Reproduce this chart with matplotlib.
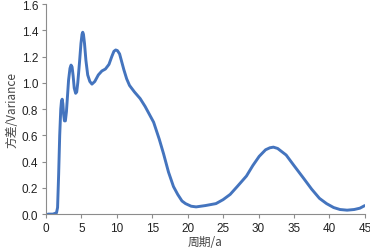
import matplotlib
matplotlib.use('Agg')
import matplotlib.pyplot as plt

plt.rcParams['font.family'] = ['Liberation Sans', 'Noto Sans CJK SC', 'DejaVu Sans']

# period (a) and variance
period = [0.3, 1.0, 1.5, 1.65, 1.8, 1.95, 2.1, 2.2, 2.3, 2.4, 2.5, 2.62, 2.75, 2.9, 3.05, 3.2,
          3.4, 3.55, 3.7, 3.85, 4.0, 4.2, 4.35, 4.5, 4.75, 4.95, 5.1, 5.2, 5.3, 5.45, 5.65,
          5.9, 6.2, 6.5, 6.9, 7.4, 7.9, 8.4, 8.9, 9.3, 9.6, 9.85, 10.1, 10.4, 10.7, 11.0,
          11.4, 11.8, 12.5, 13.3, 14.0, 14.6, 15.2, 16.0, 16.6, 17.3, 18.0,
          18.6, 19.2, 19.7, 20.5, 21.2, 22.5, 24.0, 25.0, 26.0, 27.0, 28.3, 29.2, 30.1,
          31.0, 31.6, 32.1, 32.7, 33.9, 35.0, 36.4, 37.5, 38.6, 39.6, 40.6, 41.5, 42.5, 43.5,
          44.3, 45.0]
variance = [0.0, 0.0, 0.01, 0.05, 0.30, 0.60, 0.80, 0.86, 0.875, 0.84, 0.76, 0.71, 0.71, 0.78, 0.90, 1.02,
            1.11, 1.135, 1.12, 1.05, 0.96, 0.92, 0.93, 1.00, 1.16, 1.30, 1.37, 1.385, 1.37, 1.30, 1.17,
            1.06, 1.01, 0.99, 1.01, 1.06, 1.09, 1.105, 1.14, 1.20, 1.24, 1.25, 1.245, 1.22, 1.16, 1.10,
            1.03, 0.98, 0.93, 0.88, 0.82, 0.76, 0.70, 0.57, 0.46, 0.32, 0.21,
            0.15, 0.10, 0.08, 0.06, 0.055, 0.065, 0.08, 0.11, 0.15, 0.21, 0.29, 0.37, 0.44,
            0.49, 0.505, 0.51, 0.50, 0.45, 0.37, 0.27, 0.19, 0.12, 0.08, 0.05, 0.035, 0.03, 0.035,
            0.045, 0.065]

x_ticks = [0, 5, 10, 15, 20, 25, 30, 35, 40, 45]
y_ticks = [0.0, 0.2, 0.4, 0.6, 0.8, 1.0, 1.2, 1.4, 1.6]

fig = plt.figure(figsize=(3.7, 2.51), dpi=100)
ax = fig.add_axes([0.124, 0.143, 0.862, 0.837])

ax.plot(period, variance, color='#4474BE', linewidth=2.1, solid_capstyle='round',
        solid_joinstyle='round')

ax.set_xlim(0, 45)
ax.set_ylim(0, 1.6)
ax.set_xticks(x_ticks)
ax.set_yticks(y_ticks)
ax.set_yticklabels(['%.1f' % v for v in y_ticks])

for side in ['top', 'right']:
    ax.spines[side].set_visible(False)
for side in ['left', 'bottom']:
    ax.spines[side].set_color('#8c8c8c')
    ax.spines[side].set_linewidth(0.8)
ax.tick_params(axis='both', direction='out', length=3, width=0.8, color='#8c8c8c',
               labelsize=8.5, labelcolor='#222222', pad=2.5)

ax.set_xlabel('周期/a', fontsize=8.5, color='#444444', labelpad=1,
              family=['Noto Sans CJK SC', 'DejaVu Sans'])
ax.set_ylabel('方差/Variance', fontsize=8.5, color='#444444', labelpad=2,
              family=['Noto Sans CJK SC', 'DejaVu Sans'])

fig.savefig('out.png', dpi=100)
